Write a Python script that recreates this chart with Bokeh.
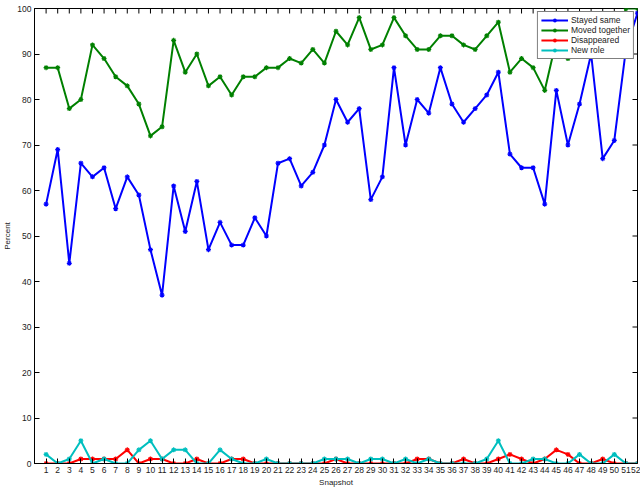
import math
from bokeh.plotting import figure
from bokeh.models import FixedTicker
from bokeh.embed import file_html
from bokeh.resources import INLINE

snapshots = list(range(1, 53))
stayed_same = [57, 69, 44, 66, 63, 65, 56, 63, 59, 47,
               37, 61, 51, 62, 47, 53, 48, 48, 54, 50,
               66, 67, 61, 64, 70, 80, 75, 78, 58, 63,
               87, 70, 80, 77, 87, 79, 75, 78, 81, 86,
               68, 65, 65, 57, 82, 70, 79, 90, 67, 71,
               91, 99]
moved_together = [87, 87, 78, 80, 92, 89, 85, 83, 79, 72,
                  74, 93, 86, 90, 83, 85, 81, 85, 85, 87,
                  87, 89, 88, 91, 88, 95, 92, 98, 91, 92,
                  98, 94, 91, 91, 94, 94, 92, 91, 94, 97,
                  86, 89, 87, 82, 93, 89, 92, 95, 93, 91,
                  100, 100]
disappeared = [0, 0, 0, 1, 1, 1, 1, 3, 0, 1,
               1, 0, 0, 1, 0, 0, 1, 1, 0, 0,
               0, 0, 0, 0, 0, 1, 0, 0, 0, 0,
               0, 0, 1, 1, 0, 0, 1, 0, 0, 1,
               2, 1, 0, 1, 3, 2, 0, 0, 1, 0,
               0, 0]
new_role = [2, 0, 1, 5, 0, 1, 0, 0, 3, 5,
            1, 3, 3, 0, 0, 3, 1, 0, 0, 1,
            0, 0, 0, 0, 1, 1, 1, 0, 1, 1,
            0, 1, 0, 1, 0, 0, 0, 0, 1, 5,
            0, 0, 1, 1, 0, 0, 2, 0, 0, 2,
            0, 0]
y_ticks = [0, 10, 20, 30, 40, 50, 60, 70, 80, 90, 100]

series = [
    ("Stayed same", stayed_same, "#0000ff"),
    ("Moved together", moved_together, "#008000"),
    ("Disappeared", disappeared, "#ff0000"),
    ("New role", new_role, "#00bfbf"),
]

FONT = "Liberation Sans"
X_MAX = 52
Y_MAX = 100

p = figure(frame_width=603, frame_height=455, x_range=(0, X_MAX), y_range=(0, Y_MAX),
           output_backend="svg", toolbar_location=None,
           min_border_left=29, min_border_right=3, min_border_top=8, min_border_bottom=24)
p.background_fill_color = "white"
p.border_fill_color = "white"
p.outline_line_color = "black"
p.outline_line_width = 1
p.grid.visible = False

# mirrored inward ticks on the top and right edges of the box
p.ray(x=snapshots, y=[Y_MAX] * len(snapshots), length=5, length_units="screen",
      angle=-math.pi / 2, line_color="black", line_width=1)
p.ray(x=[X_MAX] * len(y_ticks), y=y_ticks, length=5, length_units="screen",
      angle=math.pi, line_color="black", line_width=1)

for name, vals, col in series:
    p.line(snapshots, vals, color=col, line_width=2, legend_label=name)
    p.scatter(snapshots, vals, marker="asterisk", size=5, line_color=col,
              line_width=1.2, legend_label=name)


def style_axis(ax):
    ax.axis_line_color = "black"
    ax.axis_line_width = 1
    ax.major_tick_in = 5
    ax.major_tick_out = 0
    ax.major_tick_line_color = "black"
    ax.minor_tick_line_color = None
    ax.major_label_text_font = FONT
    ax.major_label_text_font_size = "8.5px"
    ax.major_label_text_color = "#222222"
    ax.major_label_standoff = 3
    ax.axis_label_text_font = FONT
    ax.axis_label_text_font_style = "normal"
    ax.axis_label_text_font_size = "8px"
    ax.axis_label_text_color = "#222222"
    ax.axis_label_standoff = 2


p.xaxis.ticker = FixedTicker(ticks=snapshots)
p.yaxis.ticker = FixedTicker(ticks=y_ticks)
p.xaxis.axis_label = "Snapshot"
p.yaxis.axis_label = "Percent"
style_axis(p.xaxis[0])
style_axis(p.yaxis[0])

lg = p.legend[0]
lg.location = "top_right"
lg.margin = 3
lg.padding = 3
lg.spacing = 0
lg.glyph_width = 27
lg.glyph_height = 10
lg.label_height = 10
lg.label_standoff = 3
lg.label_text_font = FONT
lg.label_text_font_size = "8.5px"
lg.label_text_color = "#222222"
lg.border_line_color = "black"
lg.border_line_width = 1
lg.background_fill_color = "white"
lg.background_fill_alpha = 1.0

open("out.html", "w").write(file_html(p, INLINE))
